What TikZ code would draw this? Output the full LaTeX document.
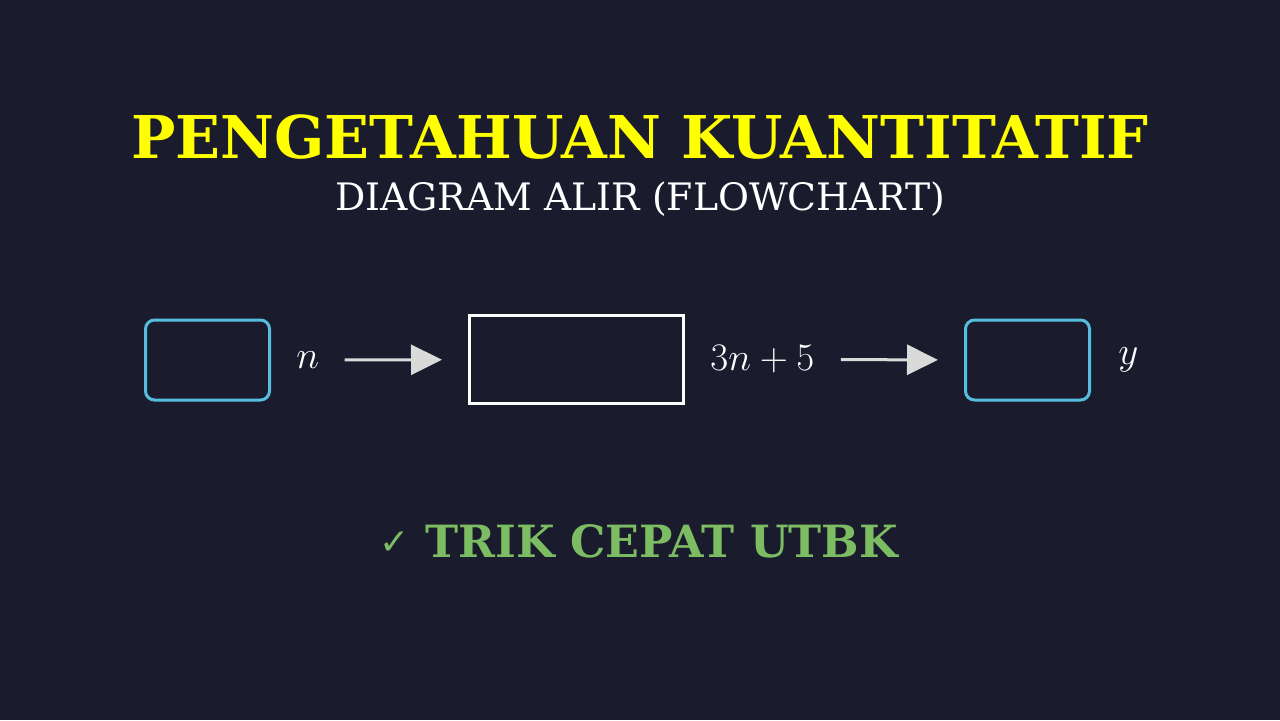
\RequirePackage{fix-cm}
\documentclass[tikz,border=0pt]{standalone}
\usepackage{fontspec}
\setmainfont{DejaVu Serif}
\newfontfamily\symfont{DejaVu Sans}
\usetikzlibrary{arrows.meta, positioning}

\definecolor{bgnavy}{RGB}{27,27,46}
\definecolor{titleyellow}{RGB}{255,255,0}
\definecolor{boxblue}{RGB}{84,190,220}
\definecolor{arrowgray}{RGB}{218,218,218}
\definecolor{trikgreen}{RGB}{124,188,98}

\tikzset{
	iobox/.style={rectangle,draw=boxblue,line width=1.5pt,rounded corners=4.5pt,minimum width=62pt,minimum height=40pt},
	procbox/.style={rectangle,draw=white,line width=1.5pt,minimum width=107pt,minimum height=44pt},
	varlabel/.style={text=white,inner sep=0pt,font=\fontsize{19.5}{23}\selectfont},
	flow/.style={draw=arrowgray,line width=1.5pt,-{Triangle[length=15.5pt,width=15pt]}}
}

\begin{document}
\begin{tikzpicture}[x=0.5pt,y=-0.5pt]
		\fill[bgnavy] (0,0) rectangle (1280,720);
		\useasboundingbox (0,0) rectangle (1280,720);
		
		\node[anchor=base,text=titleyellow,font=\fontsize{29.5}{34}\selectfont\bfseries] (title) at (640,158) {PENGETAHUAN KUANTITATIF};
		\node[anchor=base,text=white,font=\fontsize{18.9}{23}\selectfont] (subtitle) at (640,210) {DIAGRAM ALIR (FLOWCHART)};
		
		\node[iobox] (in) at (207.5,360) {};
		\node[varlabel, right=12.5pt of in] (lblN) {$n$};
		\node[procbox] (proc) at (576.5,359.5) {};
		\node[varlabel, right=12.5pt of proc] (lblF) {$3n+5$};
		\node[iobox] (out) at (1027.5,360) {};
		\node[varlabel, right=13.5pt of out] (lblY) {$y$};
		
		\draw[flow,shorten <=12.5pt,shorten >=13pt] (lblN) -- (proc);
		\draw[flow,shorten <=13pt,shorten >=13pt] (lblF) -- (out);
		
		\node[anchor=base,text=trikgreen,font=\fontsize{22.2}{26}\selectfont\bfseries] (trik) at (639,557) {\raisebox{1.5pt}{\symfont\mdseries\fontsize{18}{22}\selectfont ✓} TRIK CEPAT UTBK};
	\end{tikzpicture}
\end{document}
